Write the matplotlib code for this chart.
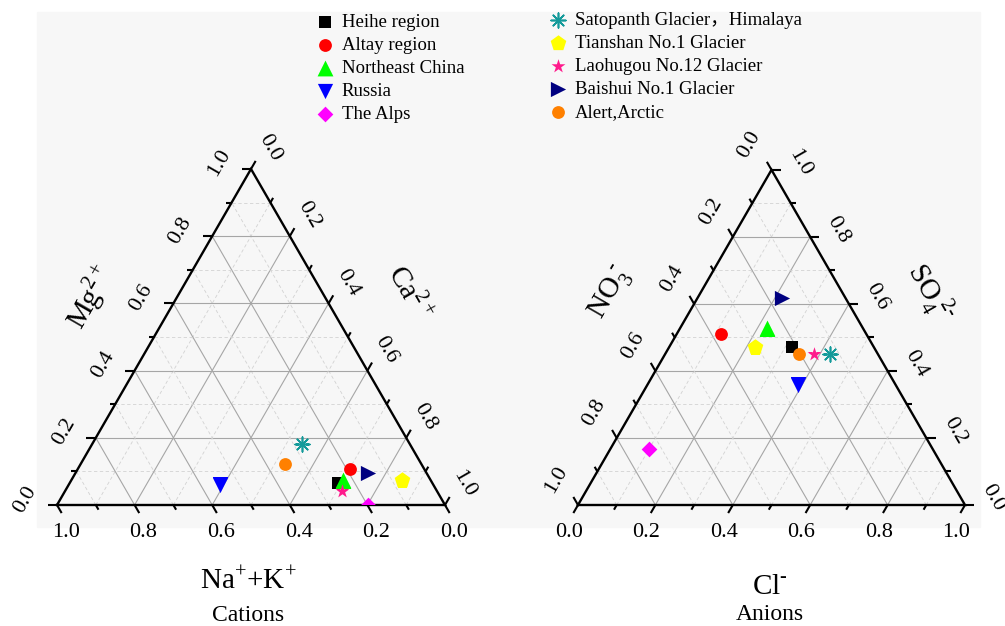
import numpy as np
import matplotlib
matplotlib.use("Agg")
import matplotlib.pyplot as plt
from matplotlib.patches import Polygon, Rectangle

plt.rcParams['font.family'] = ['Liberation Serif', 'Noto Sans CJK SC']
plt.rcParams['mathtext.fontset'] = 'custom'
plt.rcParams['mathtext.rm'] = 'Liberation Serif'

sites = ["Heihe region", "Altay region", "Northeast China", "Russia", "The Alps",
         "Satopanth Glacier，Himalaya", "Tianshan No.1 Glacier", "Laohugou No.12 Glacier",
         "Baishui No.1 Glacier", "Alert,Arctic"]
colors = ["#000000", "#ff0000", "#00ff00", "#0000ff", "#ff00ff",
          "#149a9a", "#ffff00", "#ff1a8c", "#000080", "#ff8000"]
markers = ["s", "o", "^", "v", "D", (8, 2, 0), "p", "*", ">", "o"]
sizes = [64, 85, 130, 120, 64, 110, 140, 110, 120, 85]

# cations (fractions), Na+K is the remainder
ca = [0.692, 0.702, 0.701, 0.390, 0.801, 0.541, 0.853, 0.714, 0.754, 0.528]
mg = [0.066, 0.107, 0.074, 0.060, 0.000, 0.182, 0.074, 0.043, 0.094, 0.121]
# anions (fractions), NO3 is the remainder
cl = [0.317, 0.114, 0.224, 0.389, 0.101, 0.426, 0.222, 0.385, 0.218, 0.347]
so4 = [0.471, 0.510, 0.527, 0.358, 0.166, 0.450, 0.471, 0.450, 0.617, 0.450]

ticks_major = [0.0, 0.2, 0.4, 0.6, 0.8, 1.0]
ticks_minor = [0.1, 0.3, 0.5, 0.7, 0.9]

H = np.sqrt(3) / 2


def tern(left, right, top):
    left, right, top = (np.asarray(v, dtype=float) for v in (left, right, top))
    tot = left + right + top
    return (right + top / 2) / tot, top * H / tot


def draw_frame(ax, edges):
    # grid lines of constant left / right / top fraction
    for v in np.arange(1, 10) / 10:
        major = abs(v * 5 - round(v * 5)) < 1e-6
        kw = dict(color='#a6a6a6', lw=0.8, ls='-') if major else \
            dict(color='#d2d2d2', lw=0.6, ls=(0, (4, 3)))
        for p, q in [((v, 1 - v, 0), (v, 0, 1 - v)),
                     ((1 - v, v, 0), (0, v, 1 - v)),
                     ((1 - v, 0, v), (0, 1 - v, v))]:
            x0, y0 = tern(*p)
            x1, y1 = tern(*q)
            ax.plot([x0, x1], [y0, y1], zorder=1, **kw)
    xs, ys = tern([1, 0, 0, 1], [0, 1, 0, 0], [0, 0, 1, 0])
    ax.plot(xs, ys, color='black', lw=1.7, zorder=3, solid_joinstyle='miter')

    for comp, d, off, rot in edges:
        d = np.array(d)
        for t in ticks_major + ticks_minor:
            x, y = tern(*comp(t))
            ln = 0.024 if t in ticks_major else 0.014
            ax.plot([x, x + ln * d[0]], [y, y + ln * d[1]], color='black',
                    lw=1.5, zorder=3, solid_capstyle='butt')
        for t in ticks_major:
            x, y = tern(*comp(t))
            ax.text(x + off[0], y + off[1], f"{t:.1f}", fontsize=16,
                    rotation=rot, ha='center', va='center')


def panel(rect):
    ax = fig.add_axes(rect)
    ax.set_xlim(-0.15, 1.15)
    ax.set_ylim(-0.3, 1.0)
    ax.set_aspect('equal')
    ax.axis('off')
    return ax


def scatter(ax, xs, ys):
    clip = Polygon([[0, 0], [1, 0], [0.5, H]], closed=True, transform=ax.transData)
    handles = []
    for i in range(len(sites)):
        sc = ax.scatter(xs[i], ys[i], s=sizes[i], marker=markers[i], c=colors[i],
                        linewidths=1.2 if markers[i] == (8, 2, 0) else 0,
                        zorder=5, label=sites[i])
        sc.set_clip_path(clip)
        handles.append(sc)
    return handles


W, Hpx = 1005, 626
fig = plt.figure(figsize=(W / 100, Hpx / 100), dpi=100)
fig.patches.append(Rectangle((37 / W, (Hpx - 527) / Hpx), 943 / W, 515 / Hpx,
                             transform=fig.transFigure, color='#f7f7f7', zorder=-10))

# cation triangle: left = Na+K, right = Ca, top = Mg
ax1 = panel([(57 - 0.15 * 388) / W, (121 - 0.3 * 388) / Hpx, 1.3 * 388 / W, 1.3 * 388 / Hpx])
draw_frame(ax1, [
    (lambda t: (t, 1 - t, 0), (0.5, -H), (0.023, -0.07), 0),
    (lambda t: (1 - t, 0, t), (-1, 0), (-0.082, 0.015), 60),
    (lambda t: (0, t, 1 - t), (0.5, H), (0.049, 0.054), -60),
])
na_k = 1 - np.array(ca) - np.array(mg)
cx, cy = tern(na_k, ca, mg)
handles = scatter(ax1, cx, cy)
ax1.text(0.085, 0.536, r'Mg$^{2+}$', fontsize=21, rotation=60, ha='center', va='center')
ax1.text(0.910, 0.546, r'Ca$^{2+}$', fontsize=21, rotation=-60, ha='center', va='center')
ax1.text(0.492, -0.197, r'Na$^{+}$+K$^{+}$', fontsize=21, ha='center', va='center')
ax1.text(0.492, -0.284, 'Cations', fontsize=17, ha='center', va='center')

# anion triangle: left = NO3, right = Cl, top = SO4
ax2 = panel([(578 - 0.15 * 387) / W, (121 - 0.3 * 387) / Hpx, 1.3 * 387 / W, 1.3 * 387 / Hpx])
draw_frame(ax2, [
    (lambda t: (1 - t, t, 0), (-0.5, -H), (-0.023, -0.07), 0),
    (lambda t: (t, 0, 1 - t), (-0.5, H), (-0.057, 0.065), 60),
    (lambda t: (0, 1 - t, t), (1, 0), (0.073, 0.018), -60),
])
no3 = 1 - np.array(cl) - np.array(so4)
ax_, ay_ = tern(no3, cl, so4)
scatter(ax2, ax_, ay_)
ax2.text(0.085, 0.548, r'NO$_3^{\ \text{-}}$', fontsize=21, rotation=60, ha='center', va='center')
ax2.text(0.910, 0.548, r'SO$_4^{\ 2\text{-}}$', fontsize=21, rotation=-60, ha='center', va='center')
ax2.text(0.496, -0.212, r'Cl$^{\text{-}}$', fontsize=21, ha='center', va='center')
ax2.text(0.496, -0.284, 'Anions', fontsize=17, ha='center', va='center')

prop = {'family': ['Liberation Serif', 'Noto Sans CJK SC'], 'size': 13.5}
for sl, x0, y0 in [(slice(0, 5), 315.6, 14), (slice(5, 10), 548.6, 12)]:
    fig.legend(handles[sl], sites[sl], loc='upper left',
               bbox_to_anchor=(x0 / W, 1 - y0 / Hpx), bbox_transform=fig.transFigure,
               frameon=False, prop=prop, borderpad=0, borderaxespad=0,
               handlelength=1.0, handletextpad=0.4, labelspacing=0.31,
               scatterpoints=1)

fig.savefig('out.png', dpi=100)
